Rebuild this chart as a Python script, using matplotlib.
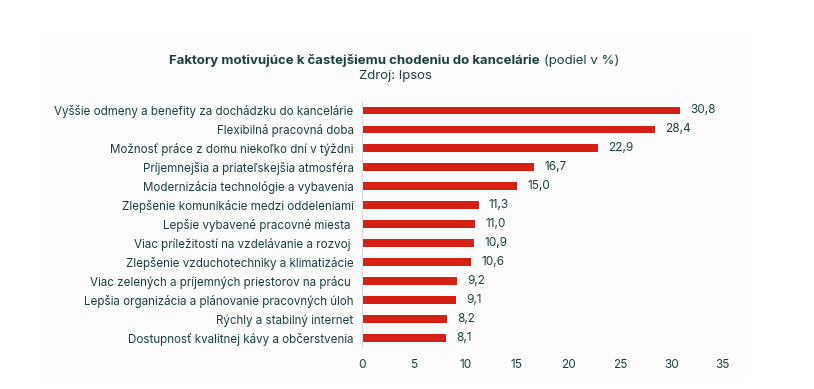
import matplotlib
matplotlib.use("Agg")
import matplotlib.pyplot as plt
from matplotlib.patches import Rectangle

categories = [
    "Vyššie odmeny a benefity za dochádzku do kancelárie",
    "Flexibilná pracovná doba",
    "Možnosť práce z domu niekoľko dní v týždni",
    "Príjemnejšia a priateľskejšia atmosféra",
    "Modernizácia technológie a vybavenia",
    "Zlepšenie komunikácie medzi oddeleniami",
    "Lepšie vybavené pracovné miesta ",
    "Viac príležitostí na vzdelávanie a rozvoj ",
    "Zlepšenie vzduchotechniky a klimatizácie",
    "Viac zelených a príjemných priestorov na prácu ",
    "Lepšia organizácia a plánovanie pracovných úloh",
    "Rýchly a stabilný internet",
    "Dostupnosť kvalitnej kávy a občerstvenia",
]
values = [30.8, 28.4, 22.9, 16.7, 15.0, 11.3, 11.0, 10.9, 10.6, 9.2, 9.1, 8.2, 8.1]
xticks = [0, 5, 10, 15, 20, 25, 30, 35]

FONT = ["Inter", "DejaVu Sans"]
TXT = "#1f4040"
RED = "#d42016"

plt.rcParams['font.family'] = FONT

fig = plt.figure(figsize=(8.14, 3.89), dpi=100)
fig.patches.append(Rectangle((0.049, 0.028), 0.87, 0.887, transform=fig.transFigure,
                             facecolor="#fdfdfd", edgecolor="none", zorder=-5))
ax = fig.add_axes([0.4447, 0.1067, 0.4435, 0.6349])
ax.set_zorder(1)
ax.set_facecolor("none")

y = list(range(len(categories)))
ax.barh(y, values, height=0.37, color=RED)
for yi, v in zip(y, values):
    ax.text(v + 1.0, yi, f"{v:.1f}".replace(".", ","), va="center", ha="left",
            fontsize=8.5, color=TXT)

ax.set_ylim(len(categories) - 0.5, -0.5)
ax.set_xlim(0, 35)
ax.set_xticks(xticks)
ax.set_xticklabels([str(t) for t in xticks], fontsize=8.5, color=TXT)
ax.set_yticks(y)
ax.set_yticklabels(categories, fontsize=8.35, color=TXT)
ax.tick_params(axis="both", length=0)
ax.tick_params(axis="y", pad=6)
ax.tick_params(axis="x", pad=8)
for s in ["top", "right", "bottom"]:
    ax.spines[s].set_visible(False)
ax.spines["left"].set_color("#dddddd")
ax.spines["left"].set_linewidth(0.8)

fig.text(0.663, 0.845, "Faktory motivujúce k častejšiemu chodeniu do kancelárie", ha="right",
         va="center", fontsize=9.5, fontweight="bold", color=TXT)
fig.text(0.668, 0.845, "(podiel v %)", ha="left", va="center", fontsize=9.5, color=TXT)
fig.text(0.486, 0.805, "Zdroj: Ipsos", ha="center", va="center", fontsize=9.5, color=TXT)

fig.savefig("out.png", dpi=100, facecolor="white")
